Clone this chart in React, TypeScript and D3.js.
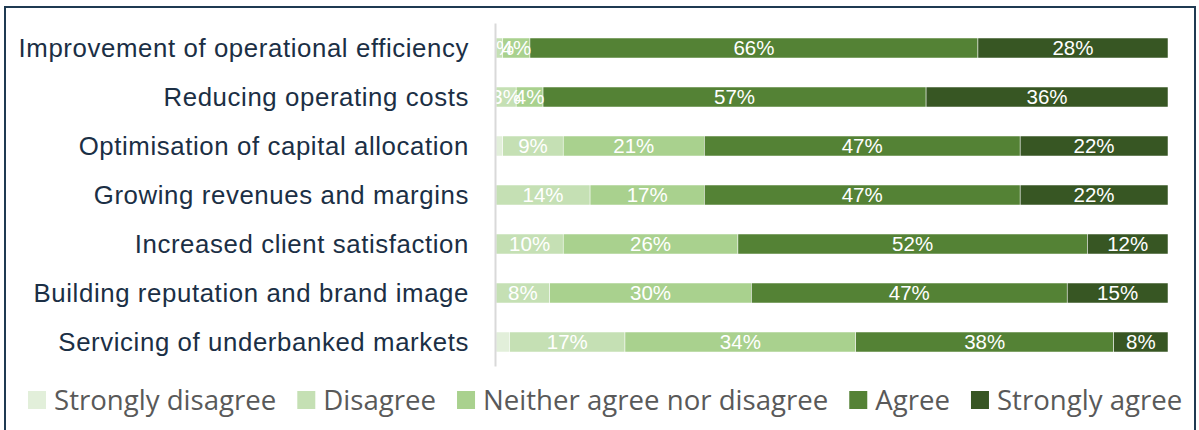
import React, { useEffect, useRef } from "react";
import * as d3 from "d3";

const categories = [
  "Improvement of operational efficiency",
  "Reducing operating costs",
  "Optimisation of capital allocation",
  "Growing revenues and margins",
  "Increased client satisfaction",
  "Building reputation and brand image",
  "Servicing of underbanked markets",
];

const seriesNames = [
  "Strongly disagree",
  "Disagree",
  "Neither agree nor disagree",
  "Agree",
  "Strongly agree",
];

const stronglyDisagree = [0, 0, 1, 0, 0, 0, 2];
const disagree = [1, 3, 9, 14, 10, 8, 17];
const neither = [4, 4, 21, 17, 26, 30, 34];
const agree = [66, 57, 47, 47, 52, 47, 38];
const stronglyAgree = [28, 36, 22, 22, 12, 15, 8];

const colors = ["#E2EFDA", "#C5E0B4", "#A9D18E", "#548235", "#375623"];
const showLabel = [false, true, true, true, true];

const W = 1199;
const H = 430;

export default function App() {
  const legendRef = useRef<SVGGElement>(null);

  const seriesValues = [stronglyDisagree, disagree, neither, agree, stronglyAgree];
  const rows = categories.map((c, i) => {
    const vals = seriesValues.map((s) => s[i]);
    const total = d3.sum(vals);
    let acc = 0;
    return {
      cat: c,
      segs: vals.map((v, k) => {
        const s = { k, v, x0: acc / total, x1: (acc + v) / total };
        acc += v;
        return s;
      }),
    };
  });

  const x = d3.scaleLinear().domain([0, 1]).range([496, 1168]);
  const y = d3
    .scaleBand<string>()
    .domain(categories)
    .range([23.5, 366.5])
    .paddingInner(29 / 49)
    .paddingOuter(29 / 98);

  useEffect(() => {
    const g = d3.select(legendRef.current);
    if (!g.node()) return;
    g.selectAll("*").remove();
    const items = g.selectAll("g").data(seriesNames).join("g");
    items
      .append("rect")
      .attr("width", 18)
      .attr("height", 18)
      .attr("y", -9)
      .attr("fill", (_, i) => colors[i]);
    items
      .append("text")
      .attr("x", 26)
      .attr("dy", "0.36em")
      .attr("fill", "#595959")
      .style("font-family", "'Open Sans', sans-serif")
      .style("font-size", "27.6px")
      .text((d) => d);
    let cx = 28;
    items.each(function () {
      const t = d3.select(this).select("text").node() as SVGTextElement;
      const w = t.getComputedTextLength();
      d3.select(this).attr("transform", `translate(${cx},400)`);
      cx += 26 + w + 21;
    });
  }, []);

  return (
    <div style={{ position: "absolute", left: 0, top: 0 }}>
      <svg width={W} height={H} style={{ display: "block" }}>
        <defs>
          <clipPath id="plotClip">
            <rect x={496} y={0} width={700} height={380} />
          </clipPath>
        </defs>
        <rect x={0} y={0} width={W} height={H} fill="#ffffff" />
        <rect
          x={5}
          y={7}
          width={1190}
          height={440}
          fill="none"
          stroke="#1F3A52"
          strokeWidth={2}
        />
        {rows.map((r) => (
          <g key={r.cat}>
            <text
              x={469}
              y={(y(r.cat) as number) + y.bandwidth() / 2}
              dy="0.36em"
              textAnchor="end"
              fill="#1B2F45"
              style={{
                fontFamily: "'Liberation Sans', Arial, sans-serif",
                fontSize: "25.8px",
                letterSpacing: "0.6px",
              }}
            >
              {r.cat}
            </text>
            {r.segs.map((s) =>
              s.v > 0 ? (
                <rect
                  key={s.k}
                  x={x(s.x0)}
                  y={y(r.cat) as number}
                  width={x(s.x1) - x(s.x0)}
                  height={y.bandwidth()}
                  fill={colors[s.k]}
                  stroke="#ffffff"
                  strokeWidth={0.5}
                />
              ) : null
            )}
            <g clipPath="url(#plotClip)">
              {r.segs.map((s) =>
                s.v > 0 && showLabel[s.k] ? (
                  <text
                    key={s.k}
                    x={(x(s.x0) + x(s.x1)) / 2}
                    y={(y(r.cat) as number) + y.bandwidth() / 2}
                    dy="0.36em"
                    textAnchor="middle"
                    fill="#ffffff"
                    style={{ fontFamily: "'Liberation Sans', Arial, sans-serif", fontSize: "20.5px" }}
                  >
                    {s.v}%
                  </text>
                ) : null
              )}
            </g>
          </g>
        ))}
        <line x1={495.5} x2={495.5} y1={23.5} y2={366.5} stroke="#D9D9D9" strokeWidth={2} />
        <g ref={legendRef} />
      </svg>
    </div>
  );
}
